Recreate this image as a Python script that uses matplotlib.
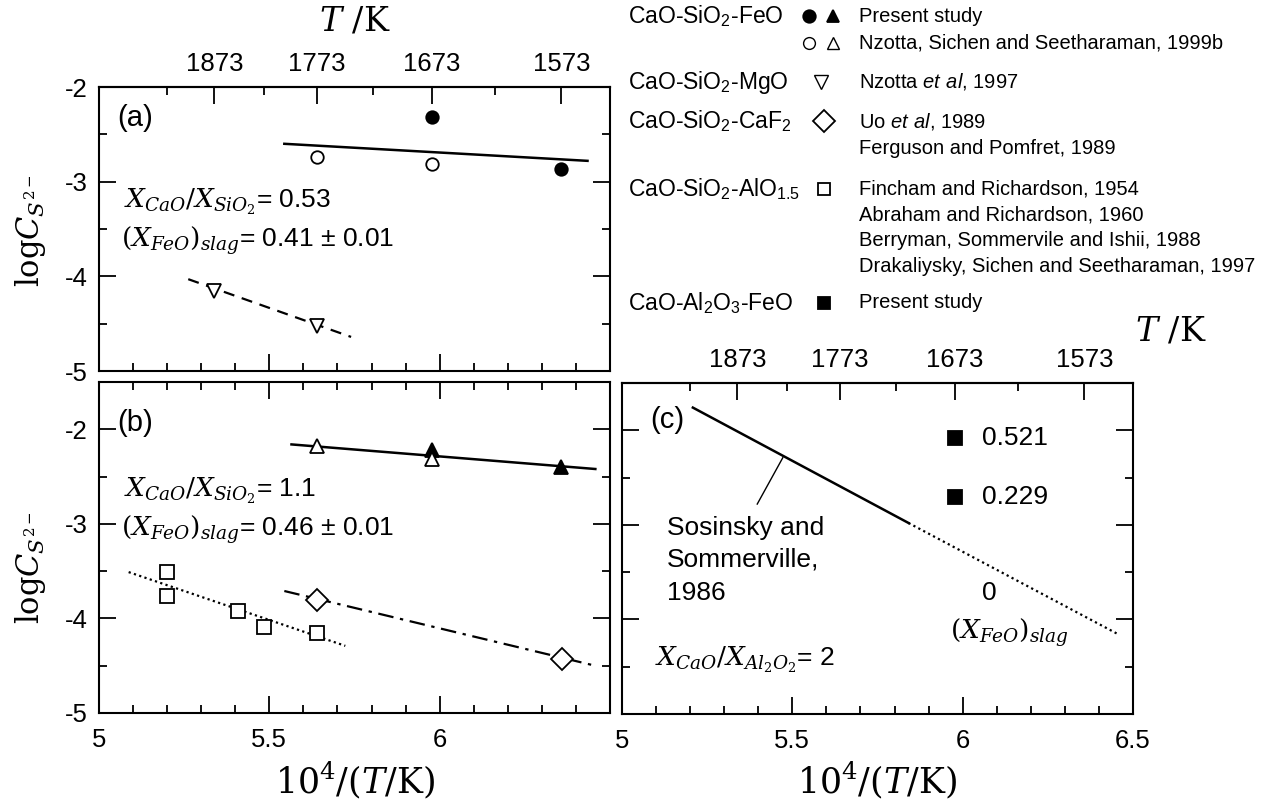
import numpy as np
import matplotlib
matplotlib.use("Agg")
import matplotlib.pyplot as plt
from matplotlib.ticker import MultipleLocator, FixedLocator, FuncFormatter

plt.rcParams["font.family"] = ["Liberation Sans", "DejaVu Sans"]
plt.rcParams["mathtext.fontset"] = "custom"
plt.rcParams["mathtext.rm"] = "DejaVu Serif"
plt.rcParams["mathtext.it"] = "DejaVu Serif:italic"
plt.rcParams["mathtext.sf"] = "Liberation Sans"
plt.rcParams["mathtext.bf"] = "Liberation Sans:italic"  # used for "et al"
plt.rcParams["axes.unicode_minus"] = False

# ---- data, x = 10^4/(T/K), y = log C_S2- ----
T_major = [1873, 1773, 1673, 1573]
T_minor = [1923, 1823, 1723, 1623]

# (a) X_CaO/X_SiO2 = 0.53
a_present_x = [5.977, 6.357]
a_present_y = [-2.32, -2.87]
a_nzotta_x = [5.640, 5.977]
a_nzotta_y = [-2.74, -2.81]
a_fit_x = [5.544, 6.434]
a_fit_y = [-2.60, -2.78]
a_mgo_x = [5.338, 5.640]
a_mgo_y = [-4.15, -4.52]
a_mgo_fit_x = [5.262, 5.740]
a_mgo_fit_y = [-4.03, -4.64]

# (b) X_CaO/X_SiO2 = 1.1
b_present_x = [5.977, 6.357]
b_present_y = [-2.22, -2.40]
b_nzotta_x = [5.641, 5.977]
b_nzotta_y = [-2.18, -2.31]
b_fit_x = [5.565, 6.457]
b_fit_y = [-2.16, -2.42]
b_al_x = [5.200, 5.200, 5.408, 5.484, 5.641]
b_al_y = [-3.51, -3.76, -3.92, -4.09, -4.15]
b_al_fit_x = [5.087, 5.723]
b_al_fit_y = [-3.51, -4.29]
b_caf2_x = [5.641, 6.360]
b_caf2_y = [-3.81, -4.43]
b_caf2_fit_x = [5.544, 6.445]
b_caf2_fit_y = [-3.71, -4.49]

# (c) CaO-Al2O3-FeO
c_sos_x = [5.208, 5.841]
c_sos_y = [-1.76, -2.98]
c_ext_x = [5.841, 6.453]
c_ext_y = [-2.98, -4.15]
c_present_x = [5.977, 5.977]
c_present_y = [-2.08, -2.71]
c_present_lbl = ["0.521", "0.229"]
c_sos_lines = ["Sosinsky and", "Sommerville,", "1986"]
c_sos_lines_y = [-3.03, -3.37, -3.72]

# legend block (name, references)
leg_names = ["CaO-SiO$_\\mathsf{2}$-FeO", "", "CaO-SiO$_\\mathsf{2}$-MgO",
             "CaO-SiO$_\\mathsf{2}$-CaF$_\\mathsf{2}$", "", "CaO-SiO$_\\mathsf{2}$-AlO$_\\mathsf{1.5}$",
             "", "", "", "CaO-Al$_\\mathsf{2}$O$_\\mathsf{3}$-FeO"]
leg_refs = ["Present study", "Nzotta, Sichen and Seetharaman, 1999b",
            "Nzotta $\\mathbf{et\\ al}$, 1997", "Uo $\\mathbf{et\\ al}$, 1989",
            "Ferguson and Pomfret, 1989", "Fincham and Richardson, 1954",
            "Abraham and Richardson, 1960", "Berryman, Sommervile and Ishii, 1988",
            "Drakaliysky, Sichen and Seetharaman, 1997", "Present study"]
leg_rows_y = [16, 43, 82, 121, 148, 189, 215, 241, 266, 303]

W, H = 1269, 806
fig = plt.figure(figsize=(W / 100, H / 100), dpi=100)
ax_a = fig.add_axes([99 / W, 1 - 371 / H, 511 / W, 284 / H])
ax_b = fig.add_axes([99 / W, 1 - 713 / H, 511 / W, 331 / H])
ax_c = fig.add_axes([622 / W, 1 - 714 / H, 511 / W, 331 / H])

fmt = FuncFormatter(lambda v, p: f"{v:g}")


def style(ax, ylo, yhi, top_ticks):
    ax.set_xlim(5, 6.5)
    ax.set_ylim(ylo, yhi)
    ax.xaxis.set_major_locator(MultipleLocator(0.5))
    ax.xaxis.set_minor_locator(MultipleLocator(0.1))
    ax.yaxis.set_major_locator(MultipleLocator(1))
    ax.yaxis.set_minor_locator(MultipleLocator(0.5))
    ax.xaxis.set_major_formatter(fmt)
    ax.yaxis.set_major_formatter(fmt)
    ax.tick_params(which="both", direction="in", right=True, top=top_ticks, width=1.3,
                   labelsize=18.5)
    ax.tick_params(which="major", length=12)
    ax.tick_params(which="minor", length=6)
    ax.tick_params(axis="x", pad=11)
    ax.tick_params(axis="y", pad=8)
    for s in ax.spines.values():
        s.set_linewidth(1.5)


def top_axis(ax):
    sec = ax.secondary_xaxis("top", functions=(lambda x: 1e4 / np.asarray(x, float),
                                               lambda t: 1e4 / np.asarray(t, float)))
    sec.xaxis.set_major_locator(FixedLocator(T_major))
    sec.xaxis.set_minor_locator(FixedLocator(T_minor))
    sec.xaxis.set_major_formatter(FuncFormatter(lambda v, p: f"{v:.0f}"))
    sec.tick_params(which="both", direction="in", width=1.3, labelsize=18.5, pad=8)
    sec.tick_params(which="major", length=12)
    sec.tick_params(which="minor", length=6)
    sec.spines["top"].set_linewidth(1.5)
    return sec


style(ax_a, -5, -2, False)
style(ax_b, -5, -1.5, True)
style(ax_c, -5, -1.5, False)
ax_a.tick_params(labelbottom=False)
ax_b.xaxis.set_major_formatter(FuncFormatter(lambda v, p: "" if v > 6.4 else f"{v:g}"))
ax_c.tick_params(labelleft=False)
top_axis(ax_a)
top_axis(ax_c)

mk = dict(ls="none", mec="black", mew=1.3)
ts = 19
# (a)
ax_a.plot(a_fit_x, a_fit_y, "-", color="black", lw=1.8)
ax_a.plot(a_mgo_fit_x, a_mgo_fit_y, color="black", lw=1.6, ls=(0, (5, 3.5)))
ax_a.plot(a_present_x, a_present_y, marker="o", ms=9, mfc="black", **mk)
ax_a.plot(a_nzotta_x, a_nzotta_y, marker="o", ms=9, mfc="white", **mk)
ax_a.plot(a_mgo_x, a_mgo_y, marker="v", ms=10, mfc="white", **mk)
ax_a.text(5.055, -2.33, "(a)", fontsize=21, va="center")
ax_a.text(5.072, -3.21, "$X_{CaO}/X_{SiO_2}$= 0.53", fontsize=ts, va="center")
ax_a.text(5.064, -3.62, "$(X_{FeO})_{slag}$= 0.41 ± 0.01", fontsize=ts, va="center")

# (b)
ax_b.plot(b_fit_x, b_fit_y, "-", color="black", lw=1.8)
ax_b.plot(b_al_fit_x, b_al_fit_y, color="black", lw=1.6, ls=(0, (1, 1.5)))
ax_b.plot(b_caf2_fit_x, b_caf2_fit_y, color="black", lw=1.6, ls=(0, (7, 3, 1.5, 3)))
ax_b.plot(b_present_x, b_present_y, marker="^", ms=10, mfc="black", **mk)
ax_b.plot(b_nzotta_x, b_nzotta_y, marker="^", ms=10, mfc="white", **mk)
ax_b.plot(b_al_x, b_al_y, marker="s", ms=10, mfc="white", **mk)
ax_b.plot(b_caf2_x, b_caf2_y, marker="D", ms=11, mfc="white", **mk)
ax_b.text(5.055, -1.93, "(b)", fontsize=21, va="center")
ax_b.text(5.072, -2.65, "$X_{CaO}/X_{SiO_2}$= 1.1", fontsize=ts, va="center")
ax_b.text(5.064, -3.06, "$(X_{FeO})_{slag}$= 0.46 ± 0.01", fontsize=ts, va="center")

# (c)
ax_c.plot(c_sos_x, c_sos_y, "-", color="black", lw=1.8)
ax_c.plot(c_ext_x, c_ext_y, color="black", lw=1.6, ls=(0, (1, 1.5)))
ax_c.plot(c_present_x, c_present_y, marker="s", ms=10, mfc="black", **mk)
for y, lbl in zip(c_present_y, c_present_lbl):
    ax_c.text(6.058, y, lbl, fontsize=ts, va="center")
ax_c.text(6.077, -3.72, "0", fontsize=ts, va="center", ha="center")
ax_c.text(5.964, -4.14, "$(X_{FeO})_{slag}$", fontsize=ts, va="center")
ax_c.text(5.083, -1.89, "(c)", fontsize=21, va="center")
for y, line in zip(c_sos_lines_y, c_sos_lines):
    ax_c.text(5.133, y, line, fontsize=ts, va="center")
ax_c.plot([5.397, 5.472], [-2.78, -2.29], color="black", lw=1)
ax_c.text(5.098, -4.43, "$X_{CaO}/X_{Al_2O_2}$= 2", fontsize=ts, va="center")

# axis labels
fig.text(355 / W, 1 - 22 / H, "$T\\ /\\mathrm{K}$", fontsize=24, ha="center", va="center")
fig.text(1171 / W, 1 - 332 / H, "$T\\ /\\mathrm{K}$", fontsize=24, ha="center", va="center")
fig.text(355 / W, 1 - 780 / H, "$10^4/(T/\\mathrm{K})$", fontsize=25, ha="center", va="center")
fig.text(877 / W, 1 - 780 / H, "$10^4/(T/\\mathrm{K})$", fontsize=25, ha="center", va="center")
fig.text(30 / W, 1 - 231 / H, "$\\mathrm{log}C_{S^{2-}}$", fontsize=22, rotation=90,
         ha="center", va="center")
fig.text(30 / W, 1 - 568 / H, "$\\mathrm{log}C_{S^{2-}}$", fontsize=22, rotation=90,
         ha="center", va="center")

# legend block
for name, ref, y in zip(leg_names, leg_refs, leg_rows_y):
    if name:
        fig.text(628 / W, 1 - y / H, name, fontsize=16.5, va="center")
    fig.text(859 / W, 1 - y / H, ref, fontsize=14.5, va="center")

key = fig.add_axes([0, 0, 1, 1], facecolor="none")
key.set_xlim(0, W)
key.set_ylim(H, 0)
key.axis("off")
key.plot([809], [16], marker="o", ms=9, mfc="black", **mk)
key.plot([833], [16], marker="^", ms=9, mfc="black", **mk)
key.plot([809], [43], marker="o", ms=8.5, mfc="white", mec="black", mew=1, ls="none")
key.plot([833], [43], marker="^", ms=9, mfc="white", mec="black", mew=1, ls="none")
key.plot([821], [82], marker="v", ms=10, mfc="white", mec="black", mew=1, ls="none")
key.plot([824], [121], marker="D", ms=11, mfc="white", **mk)
key.plot([824], [189], marker="s", ms=9, mfc="white", **mk)
key.plot([824], [303], marker="s", ms=9, mfc="black", **mk)

fig.savefig("out.png", dpi=100)
